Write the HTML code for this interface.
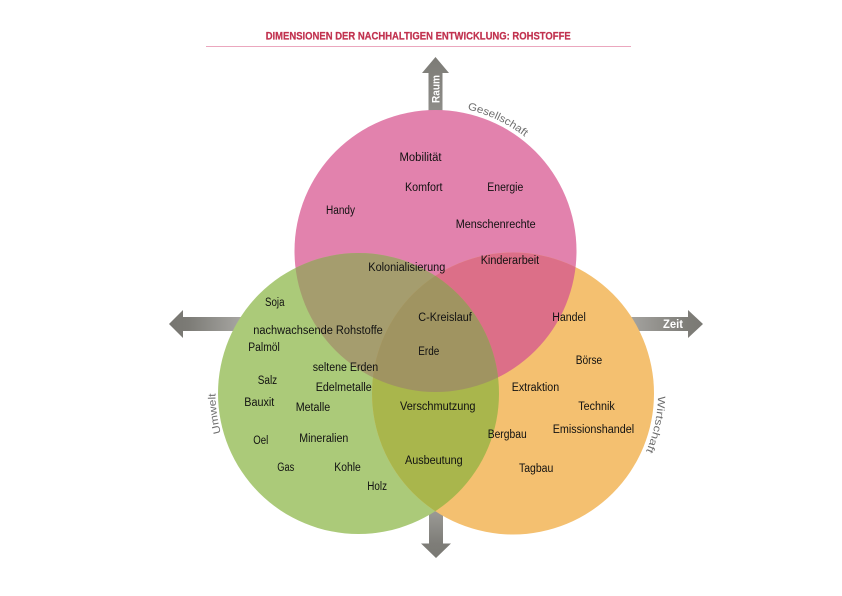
<!DOCTYPE html>
<html><head><meta charset="utf-8"><style>
html,body{margin:0;padding:0;background:#fff;}
svg{display:block;}
text{font-family:"Liberation Sans",sans-serif;}
.l{font-size:11.5px;fill:#111;}
</style></head><body>
<svg width="842" height="596" viewBox="0 0 842 596" xmlns="http://www.w3.org/2000/svg">
<defs>
<clipPath id="cp"><circle cx="435.5" cy="251" r="141"/></clipPath>
<clipPath id="cg"><circle cx="358.5" cy="393.5" r="140.5"/></clipPath>
<linearGradient id="gl" x1="169" y1="0" x2="245" y2="0" gradientUnits="userSpaceOnUse"><stop offset="0" stop-color="#767570"/><stop offset="0.25" stop-color="#7c7b76"/><stop offset="1" stop-color="#aaa9a5"/></linearGradient>
<linearGradient id="gr" x1="625" y1="0" x2="703" y2="0" gradientUnits="userSpaceOnUse"><stop offset="0" stop-color="#a8a7a3"/><stop offset="0.8" stop-color="#7e7d78"/><stop offset="1" stop-color="#7a7974"/></linearGradient>
<linearGradient id="gb" x1="0" y1="500" x2="0" y2="558" gradientUnits="userSpaceOnUse"><stop offset="0" stop-color="#a5a4a0"/><stop offset="0.75" stop-color="#7e7d78"/><stop offset="1" stop-color="#7a7974"/></linearGradient>
<linearGradient id="gt" x1="0" y1="57" x2="0" y2="112" gradientUnits="userSpaceOnUse"><stop offset="0" stop-color="#7c7b76"/><stop offset="1" stop-color="#8e8d89"/></linearGradient>
<path id="pG" d="M 467.4 109.5 A 145 145 0 0 1 538 148.5"/>
<path id="pU" d="M 221 432.9 A 143 143 0 0 1 216 381"/>
<path id="pW" d="M 658 396 A 145 145 0 0 1 638.6 466"/>
</defs>

<!-- title -->
<text x="265.7" y="39.7" textLength="305" lengthAdjust="spacingAndGlyphs" style="font-size:11px;font-weight:bold;fill:#c1324f;stroke:#c1324f;stroke-width:0.25;">DIMENSIONEN DER NACHHALTIGEN ENTWICKLUNG: ROHSTOFFE</text>
<line x1="206" y1="46.5" x2="631" y2="46.5" stroke="#eba7be" stroke-width="1"/>

<!-- arrows -->
<polygon points="435.5,57 449,73 442.5,73 442.5,112 428.5,112 428.5,73 422,73" fill="url(#gt)"/>
<polygon points="169,324 183,310 183,317 245,317 245,331 183,331 183,338" fill="url(#gl)"/>
<polygon points="703,324 688,310 688,317 625,317 625,331 688,331 688,338" fill="url(#gr)"/>
<polygon points="436,558 451,543.5 443,543.5 443,500 429,500 429,543.5 421,543.5" fill="url(#gb)"/>

<!-- circles -->
<circle cx="435.5" cy="251" r="141" fill="#e282ad"/>
<circle cx="358.5" cy="393.5" r="140.5" fill="#abca79"/>
<circle cx="513" cy="393.5" r="141" fill="#f4c070"/>
<circle cx="358.5" cy="393.5" r="140.5" fill="#a59d6e" clip-path="url(#cp)"/>
<circle cx="513" cy="393.5" r="141" fill="#dc6f88" clip-path="url(#cp)"/>
<circle cx="513" cy="393.5" r="141" fill="#a9b64c" clip-path="url(#cg)"/>
<g clip-path="url(#cp)"><circle cx="513" cy="393.5" r="141" fill="#a09461" clip-path="url(#cg)"/></g>

<!-- arrow labels -->
<text transform="translate(439.5,103) rotate(-90)" textLength="28" lengthAdjust="spacingAndGlyphs" style="font-size:11px;font-weight:bold;fill:#fff;">Raum</text>
<text x="663" y="328" textLength="20" lengthAdjust="spacingAndGlyphs" style="font-size:11.5px;font-weight:bold;fill:#fff;">Zeit</text>

<!-- circle labels -->
<text style="font-size:10.5px;fill:#6e6e6e;"><textPath href="#pG" textLength="64" lengthAdjust="spacingAndGlyphs">Gesellschaft</textPath></text>
<text style="font-size:10.5px;fill:#6e6e6e;"><textPath href="#pU" textLength="40" lengthAdjust="spacingAndGlyphs">Umwelt</textPath></text>
<text style="font-size:10.5px;fill:#6e6e6e;"><textPath href="#pW" textLength="57" lengthAdjust="spacingAndGlyphs">Wirtschaft</textPath></text>

<!-- words -->
<g class="l">
<text class="l" x="399.5" y="161" textLength="42" lengthAdjust="spacingAndGlyphs">Mobilität</text>
<text class="l" x="405" y="191" textLength="37.5" lengthAdjust="spacingAndGlyphs">Komfort</text>
<text class="l" x="487.3" y="191" textLength="36" lengthAdjust="spacingAndGlyphs">Energie</text>
<text class="l" x="326" y="214" textLength="29" lengthAdjust="spacingAndGlyphs">Handy</text>
<text class="l" x="455.7" y="228" textLength="80" lengthAdjust="spacingAndGlyphs">Menschenrechte</text>
<text class="l" x="480.7" y="264" textLength="58.5" lengthAdjust="spacingAndGlyphs">Kinderarbeit</text>
<text class="l" x="368.3" y="271" textLength="77" lengthAdjust="spacingAndGlyphs">Kolonialisierung</text>
<text class="l" x="265" y="306" textLength="19.5" lengthAdjust="spacingAndGlyphs">Soja</text>
<text class="l" x="253.3" y="334" textLength="129.5" lengthAdjust="spacingAndGlyphs">nachwachsende Rohstoffe</text>
<text class="l" x="248.3" y="351" textLength="31.5" lengthAdjust="spacingAndGlyphs">Palmöl</text>
<text class="l" x="312.7" y="371" textLength="65.5" lengthAdjust="spacingAndGlyphs">seltene Erden</text>
<text class="l" x="257.7" y="384" textLength="19.5" lengthAdjust="spacingAndGlyphs">Salz</text>
<text class="l" x="315.7" y="391" textLength="56" lengthAdjust="spacingAndGlyphs">Edelmetalle</text>
<text class="l" x="244.3" y="406" textLength="30" lengthAdjust="spacingAndGlyphs">Bauxit</text>
<text class="l" x="295.7" y="411" textLength="34.5" lengthAdjust="spacingAndGlyphs">Metalle</text>
<text class="l" x="253.3" y="444" textLength="15" lengthAdjust="spacingAndGlyphs">Oel</text>
<text class="l" x="299.3" y="442" textLength="49" lengthAdjust="spacingAndGlyphs">Mineralien</text>
<text class="l" x="418.3" y="321" textLength="53.5" lengthAdjust="spacingAndGlyphs">C-Kreislauf</text>
<text class="l" x="418.3" y="355" textLength="21" lengthAdjust="spacingAndGlyphs">Erde</text>
<text class="l" x="552.3" y="321" textLength="33.5" lengthAdjust="spacingAndGlyphs">Handel</text>
<text class="l" x="575.7" y="364" textLength="26.5" lengthAdjust="spacingAndGlyphs">Börse</text>
<text class="l" x="511.7" y="391" textLength="47.5" lengthAdjust="spacingAndGlyphs">Extraktion</text>
<text class="l" x="400" y="410" textLength="75.5" lengthAdjust="spacingAndGlyphs">Verschmutzung</text>
<text class="l" x="578.3" y="410" textLength="36.5" lengthAdjust="spacingAndGlyphs">Technik</text>
<text class="l" x="552.7" y="433" textLength="81.5" lengthAdjust="spacingAndGlyphs">Emissionshandel</text>
<text class="l" x="487.7" y="438" textLength="39" lengthAdjust="spacingAndGlyphs">Bergbau</text>
<text class="l" x="277.3" y="471" textLength="17" lengthAdjust="spacingAndGlyphs">Gas</text>
<text class="l" x="334.3" y="471" textLength="26.5" lengthAdjust="spacingAndGlyphs">Kohle</text>
<text class="l" x="367.3" y="490" textLength="19.7" lengthAdjust="spacingAndGlyphs">Holz</text>
<text class="l" x="405" y="464" textLength="57.7" lengthAdjust="spacingAndGlyphs">Ausbeutung</text>
<text class="l" x="519" y="472" textLength="34.3" lengthAdjust="spacingAndGlyphs">Tagbau</text>
</g>
</svg>
</body></html>
